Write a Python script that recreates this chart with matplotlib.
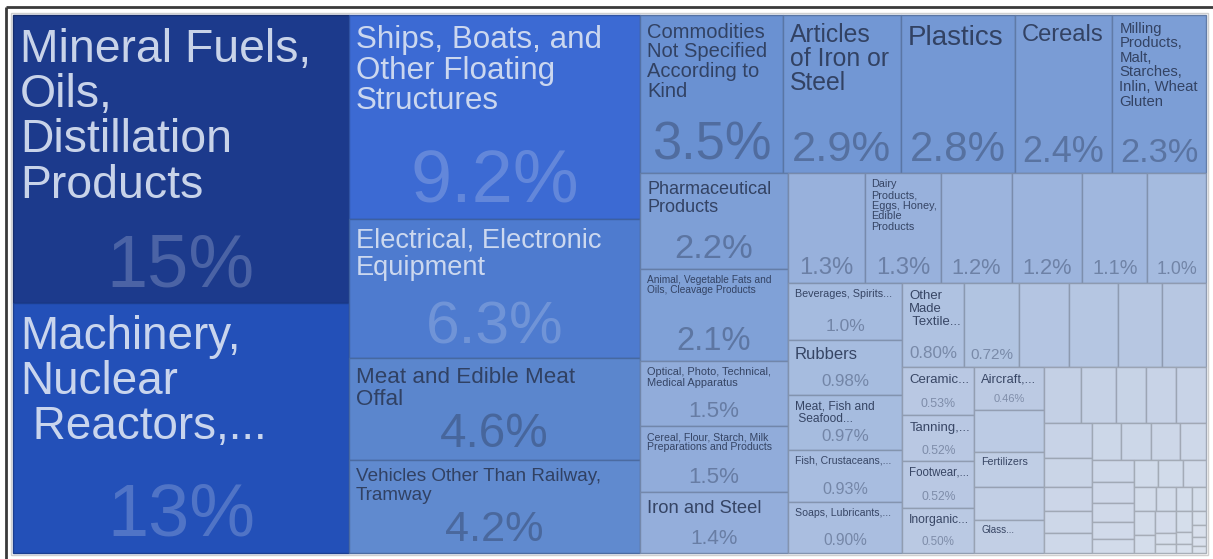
import numpy as np
import matplotlib
import matplotlib.pyplot as plt
from matplotlib.patches import Rectangle
from matplotlib.colors import to_rgb
from matplotlib.font_manager import FontProperties
from matplotlib.textpath import TextToPath

matplotlib.use("agg")

# export shares by product group (%), largest first
shares = [
    15, 13,
    9.2, 6.3, 4.6, 4.2,
    3.5, 2.9, 2.8, 2.4, 2.3,
    2.2, 2.1, 1.5, 1.5, 1.4,
    1.3, 1.3, 1.2, 1.2, 1.1, 1.0,
    1.0, 0.98, 0.97, 0.93, 0.90,
    0.80, 0.72, 0.65, 0.63, 0.58, 0.57,
    0.53, 0.52, 0.52, 0.50,
    0.46, 0.45, 0.38, 0.36, 0.35,
    0.33, 0.30, 0.27, 0.26, 0.26,
    0.26, 0.21, 0.18, 0.165, 0.15,
    0.168, 0.168, 0.163, 0.146,
    0.144, 0.137, 0.124, 0.111, 0.092,
    0.105, 0.105, 0.097,
    0.086, 0.075, 0.06, 0.052,
    0.08, 0.06,
    0.07, 0.035, 0.029,
    0.05, 0.03, 0.022,
    0.03, 0.025, 0.02, 0.015,
]

names = [
    "Mineral Fuels,\nOils,\nDistillation\nProducts",
    "Machinery,\nNuclear\n Reactors,...",
    "Ships, Boats, and\nOther Floating\nStructures",
    "Electrical, Electronic\nEquipment",
    "Meat and Edible Meat\nOffal",
    "Vehicles Other Than Railway,\nTramway",
    "Commodities\nNot Specified\nAccording to\nKind",
    "Articles\nof Iron or\nSteel",
    "Plastics",
    "Cereals",
    "Milling\nProducts,\nMalt,\nStarches,\nInlin, Wheat\nGluten",
    "Pharmaceutical\nProducts",
    "Animal, Vegetable Fats and\nOils, Cleavage Products",
    "Optical, Photo, Technical,\nMedical Apparatus",
    "Cereal, Flour, Starch, Milk\nPreparations and Products",
    "Iron and Steel",
    "",
    "Dairy\nProducts,\nEggs, Honey,\nEdible\nProducts",
    "", "", "", "",
    "Beverages, Spirits...",
    "Rubbers",
    "Meat, Fish and\n Seafood...",
    "Fish, Crustaceans,...",
    "Soaps, Lubricants,...",
    "Other\nMade\n Textile...",
    "", "", "", "", "",
    "Ceramic...",
    "Tanning,...",
    "Footwear,...",
    "Inorganic...",
    "Aircraft,...",
    "",
    "Fertilizers",
    "",
    "Glass...",
]
names += [""] * (len(shares) - len(names))

# which cells print their share
share_shown = [True] * 29 + [False] * 4 + [True] * 5
share_shown += [False] * (len(shares) - len(share_shown))

# cells per strip, and whether each strip is a column (left) or a row (top)
strip_sizes = [2, 4, 5, 5, 6, 5, 6, 4, 5, 5, 5, 4, 5, 3, 4, 2, 3, 3, 4]
strip_dirs = ["col", "col", "row", "col", "row", "col", "row", "col", "col",
              "row", "col", "row", "col", "row", "row", "col", "col", "col", "col"]

# fill shade by share
shade_at = [0.01, 0.1, 0.3, 0.5, 0.8, 1.0, 1.3, 2.2, 3.5, 4.6, 6.3, 9.2, 13, 15]
shade_hex = ["#dde4ee", "#d2dbea", "#c6d2e6", "#bac9e3", "#afc2e1", "#a5bbdf",
             "#98b1dc", "#7e9fd6", "#6a91d2", "#5b86cd", "#4e7bcf", "#3c6ad3",
             "#2350b8", "#1c3a8c"]

W, H, DPI = 1213, 559, 100
PX = 72.0 / DPI
font = "Liberation Sans"


def strip_layout(values, sizes, dirs, x, y, w, h):
    rects = []
    left = sum(values)
    i = 0
    for n, d in zip(sizes, dirs):
        chunk = values[i:i + n]
        s = sum(chunk)
        if d == "col":
            cw = w * s / left
            cy = y
            for v in chunk:
                ch = h * v / s
                rects.append((x, cy, cw, ch))
                cy += ch
            x += cw
            w -= cw
        else:
            rh = h * s / left
            cx = x
            for v in chunk:
                rw = w * v / s
                rects.append((cx, y, rw, rh))
                cx += rw
            y += rh
            h -= rh
        left -= s
        i += n
    return rects


def shade(v):
    lv = np.log(shade_at)
    rgb = np.array([to_rgb(c) for c in shade_hex])
    return tuple(np.interp(np.log(v), lv, rgb[:, k]) for k in range(3))


ttp = TextToPath()
prop = FontProperties(family=font, size=100)


def em_width(s):
    return ttp.get_text_width_height_descent(s, prop, ismath=False)[0] / 100.0


def share_text(v):
    if v >= 10:
        return "{:.0f}%".format(v)
    if v >= 1:
        return "{:.1f}%".format(v)
    return "{:.2f}%".format(v)


fig = plt.figure(figsize=(W / DPI, H / DPI), dpi=DPI)
ax = fig.add_axes([0, 0, 1, 1])
ax.set_xlim(0, W)
ax.set_ylim(H, 0)
ax.axis("off")

# window frame
ax.plot([6, W], [7, 7], color="#3a3a3a", lw=2.0, solid_capstyle="butt")
ax.plot([6, 6], [7, H], color="#3a3a3a", lw=2.0, solid_capstyle="butt")
ax.add_patch(Rectangle((11, 13), 1197, 542, fill=False, ec="#cfcfcf", lw=1.0))

rects = strip_layout(shares, strip_sizes, strip_dirs, 13, 15, 1193, 538)

for (x, y, w, h), v, name, shown in zip(rects, shares, names, share_shown):
    fc = shade(v)
    ec = tuple(c * 0.78 for c in fc)
    ax.add_patch(Rectangle((x, y), w, h, fc=fc, ec=ec, lw=1.0))

    light = v > 5
    txt_col = "#d8e1f2" if light else "#2d3b5a"

    if name:
        lines = name.split("\n")
        widest = max(em_width(s) for s in lines)
        frac = 0.84 + 0.08 * np.clip((w - 290) / 40, 0, 1)
        size = min(49, frac * w / widest, 0.3 * h / len(lines) ** 0.45)
        base = y + 4 + 0.92 * size
        for k, line in enumerate(lines):
            ax.text(x + 7, base + k * 0.98 * size, line, fontsize=size * PX,
                    family=font, color=txt_col, alpha=0.92,
                    ha="left", va="baseline")

    if shown:
        s = share_text(v)
        short, long_ = min(w, h), max(w, h)
        span = short ** 0.75 * long_ ** 0.25
        k = 0.23 + 0.13 * np.clip((span - 50) / 80, 0, 1)
        size = min(74, 0.84 * w / em_width(s), k * span)
        ax.text(x + w / 2, y + h - 6 - 0.15 * size, s, fontsize=size * PX,
                family=font, color=txt_col, alpha=0.25 if light else 0.42,
                ha="center", va="baseline")

fig.savefig("out.png", dpi=DPI, facecolor="white")
